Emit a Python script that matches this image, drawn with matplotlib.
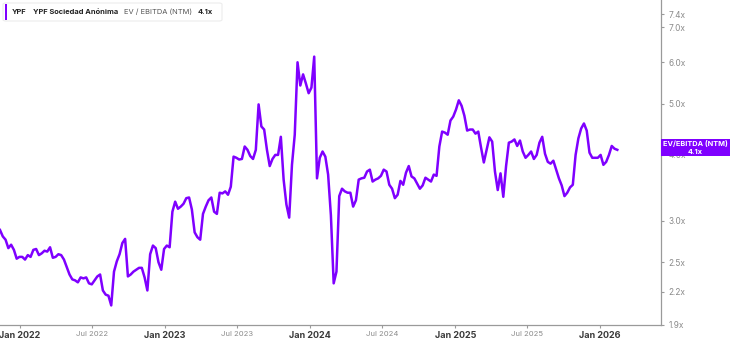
import matplotlib
matplotlib.use("Agg")
import matplotlib.pyplot as plt
import pandas as pd
from matplotlib.patches import Rectangle, FancyBboxPatch
from matplotlib.ticker import NullLocator

plt.rcParams['font.family'] = ['Inter', 'DejaVu Sans']

# ---- data (weekly EV/EBITDA NTM) ----
start_date = "2021-11-12"
ev_ebitda = [
    2.88, 2.80, 2.76, 2.66, 2.70, 2.64, 2.54, 2.56, 2.56, 2.53,
    2.58, 2.56, 2.64, 2.65, 2.58, 2.60, 2.63, 2.62, 2.67, 2.55,
    2.56, 2.59, 2.58, 2.53, 2.45, 2.37, 2.32, 2.31, 2.29, 2.34,
    2.33, 2.34, 2.28, 2.27, 2.31, 2.35, 2.37, 2.21, 2.17, 2.16,
    2.07, 2.40, 2.51, 2.59, 2.72, 2.77, 2.35, 2.37, 2.40, 2.42,
    2.44, 2.44, 2.34, 2.21, 2.59, 2.69, 2.66, 2.50, 2.42, 2.65,
    2.69, 2.67, 3.12, 3.26, 3.16, 3.19, 3.23, 3.31, 3.32, 3.15,
    2.85, 2.79, 2.76, 3.09, 3.19, 3.28, 3.32, 3.12, 3.09, 3.39,
    3.38, 3.41, 3.36, 3.48, 3.97, 3.95, 3.92, 3.93, 4.15, 4.09,
    3.98, 3.93, 4.09, 4.99, 4.53, 4.47, 4.09, 3.81, 3.93, 4.00,
    4.00, 4.33, 3.59, 3.22, 3.04, 3.83, 4.37, 6.00, 5.42, 5.69,
    5.47, 5.24, 5.37, 6.15, 3.61, 3.95, 4.06, 3.97, 3.67, 3.07,
    2.28, 2.40, 3.34, 3.45, 3.41, 3.39, 3.39, 3.19, 3.28, 3.59,
    3.61, 3.62, 3.72, 3.75, 3.56, 3.59, 3.61, 3.65, 3.75, 3.72,
    3.51, 3.45, 3.31, 3.36, 3.57, 3.51, 3.70, 3.81, 3.64, 3.61,
    3.53, 3.45, 3.50, 3.62, 3.59, 3.56, 3.67, 3.65, 4.15, 4.43,
    4.41, 4.37, 4.65, 4.73, 4.88, 5.08, 4.96, 4.75, 4.45, 4.47,
    4.47, 4.39, 4.43, 4.13, 3.87, 4.09, 4.32, 4.24, 3.72, 3.43,
    3.69, 3.33, 3.81, 4.22, 4.24, 4.28, 4.16, 4.26, 4.06, 3.95,
    4.00, 4.06, 3.93, 4.00, 4.22, 4.33, 4.02, 3.88, 3.85, 3.90,
    3.75, 3.61, 3.50, 3.34, 3.39, 3.47, 3.51, 4.00, 4.30, 4.49,
    4.59, 4.45, 4.04, 3.95, 3.95, 3.95, 4.00, 3.83, 3.88, 4.00,
    4.16, 4.11, 4.09,
]
y_ticks = [1.9, 2.2, 2.5, 3.0, 4.0, 5.0, 6.0, 7.0, 7.4]
x_tick_dates = ["2022-01-01", "2022-07-01", "2023-01-01", "2023-07-01", "2024-01-01",
                "2024-07-01", "2025-01-01", "2025-07-01", "2026-01-01"]
x_tick_labels = ["Jan 2022", "Jul 2022", "Jan 2023", "Jul 2023", "Jan 2024",
                 "Jul 2024", "Jan 2025", "Jul 2025", "Jan 2026"]
ticker_name = "YPF"
company = "YPF Sociedad Anónima"
metric = "EV / EBITDA (NTM)"
last_label = "4.1x"

dates = pd.date_range(start_date, periods=len(ev_ebitda), freq="7D")

PURPLE = "#7f00ff"
W, H = 730, 343
fig = plt.figure(figsize=(W / 100, H / 100), dpi=100)
ax = fig.add_axes([0, 1 - 325 / H, 661 / W, 325 / H])

ax.plot(dates, ev_ebitda, color=PURPLE, lw=1.8, solid_joinstyle="round", zorder=3)

ax.set_yscale("log")
ax.set_ylim(1.9, 7.88)
ax.set_xlim(pd.Timestamp("2021-11-12"), pd.Timestamp("2026-06-03"))
ax.yaxis.tick_right()
ax.set_yticks(y_ticks)
ax.set_yticklabels([f"{v:.1f}x" for v in y_ticks])
ax.yaxis.set_minor_locator(NullLocator())
ax.tick_params(axis="y", which="major", direction="out", length=2.5, width=0.8,
               color="#9a9a9a", labelsize=6.0, labelcolor="#8a8a8a", pad=3)

ax.set_xticks(pd.to_datetime(x_tick_dates))
ax.set_xticklabels(x_tick_labels)
ax.xaxis.set_minor_locator(NullLocator())
ax.tick_params(axis="x", which="major", direction="out", length=2.5, width=0.8,
               color="#9a9a9a", pad=2)
for lab in ax.get_xticklabels():
    if lab.get_text().startswith("Jan"):
        lab.set_fontsize(6.5)
        lab.set_fontweight("bold")
        lab.set_color("#3a3a3a")
    else:
        lab.set_fontsize(5.5)
        lab.set_color("#8a8a8a")

for s in ["top", "left"]:
    ax.spines[s].set_visible(False)
for s in ["right", "bottom"]:
    ax.spines[s].set_color("#9a9a9a")
    ax.spines[s].set_linewidth(0.9)

# ---- title box ----
box = FancyBboxPatch((3 / W, 1 - 21 / H), 219 / W, 18 / H,
                     boxstyle="round,pad=0,rounding_size=0.004",
                     transform=fig.transFigure, facecolor="white",
                     edgecolor="#ececec", lw=0.8, zorder=5)
fig.patches.append(box)
fig.patches.append(Rectangle((4.5 / W, 1 - 20 / H), 2.2 / W, 16 / H,
                             transform=fig.transFigure, facecolor=PURPLE,
                             edgecolor="none", zorder=6))
ty = 1 - 11.5 / H
TFS = 5.4
fig.text(12 / W, ty, ticker_name, fontsize=TFS, fontweight="bold", color="#222",
         va="center", zorder=7)
fig.text(33 / W, ty, company, fontsize=TFS, fontweight="bold", color="#222",
         va="center", zorder=7)
fig.text(124 / W, ty, metric, fontsize=TFS, color="#555", va="center", zorder=7)
fig.text(198 / W, ty, last_label, fontsize=TFS, fontweight="bold", color="#222",
         va="center", zorder=7)

# ---- last value tag on the right ----
fig.patches.append(Rectangle((661 / W, 1 - 156 / H), 69 / W, 17 / H,
                             transform=fig.transFigure, facecolor=PURPLE,
                             edgecolor="none", zorder=8))
fig.text(695 / W, 1 - 143.5 / H, "EV/EBITDA (NTM)", fontsize=5.3, fontweight="bold",
         color="white", ha="center", va="center", zorder=9)
fig.text(695 / W, 1 - 151.5 / H, last_label, fontsize=5.3, fontweight="bold",
         color="white", ha="center", va="center", zorder=9)

fig.savefig("out.png", dpi=100)
